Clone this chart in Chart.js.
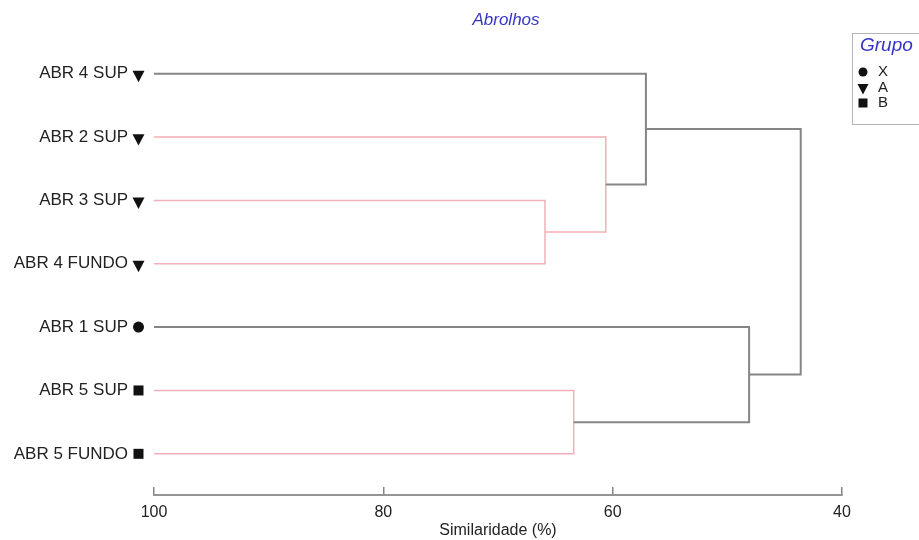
<!DOCTYPE html>
<html>
<head>
<meta charset="utf-8">
<script src="https://cdn.jsdelivr.net/npm/chart.js@4"></script>
<style>
  html, body { margin: 0; padding: 0; background: #fff; }
  #wrap { width: 919px; height: 540px; }
</style>
</head>
<body>
<div id="wrap"><canvas id="dendro"></canvas></div>
<script>
// leaves, top to bottom
const leafLabels = ["ABR 4 SUP", "ABR 2 SUP", "ABR 3 SUP", "ABR 4 FUNDO", "ABR 1 SUP", "ABR 5 SUP", "ABR 5 FUNDO"];
const leafGroups = ["A", "A", "A", "A", "X", "B", "B"];

// merges: node index = 7 + merge index
const mergeLeft = [2, 1, 0, 5, 4, 9];
const mergeRight = [3, 7, 8, 6, 10, 11];
const mergeSimilarity = [65.9, 60.6, 57.1, 63.4, 48.1, 43.6];
const mergeNotSignificant = [true, true, false, true, false, false]; // SIMPROF red lines

const xTicks = [100, 80, 60, 40];
const groupNames = ["X", "A", "B"];

const GRAY = "#858585";
const PINK = "#f4aeb7";
const BLUE = "#3535c4";

// node coordinates in data space
const nodes = leafLabels.map((_, i) => ({ x: 100, y: i }));
mergeSimilarity.forEach((h, k) => {
  const l = nodes[mergeLeft[k]], r = nodes[mergeRight[k]];
  nodes.push({ x: h, y: (l.y + r.y) / 2 });
});

const datasets = mergeSimilarity.map((h, k) => {
  const l = nodes[mergeLeft[k]], r = nodes[mergeRight[k]];
  const pink = mergeNotSignificant[k];
  return {
    data: [
      { x: l.x, y: l.y },
      { x: h, y: l.y },
      { x: h, y: r.y },
      { x: r.x, y: r.y },
    ],
    showLine: true,
    borderColor: pink ? PINK : GRAY,
    borderWidth: pink ? 1.5 : 2,
    pointRadius: 0,
    clip: false,
    order: pink ? 1 : 0,
  };
});

function drawMarker(ctx, kind, x, y, s) {
  ctx.beginPath();
  if (kind === "X") {
    ctx.arc(x, y, s / 2, 0, Math.PI * 2);
  } else if (kind === "A") {
    ctx.moveTo(x - s / 2, y - s * 0.45);
    ctx.lineTo(x + s / 2, y - s * 0.45);
    ctx.lineTo(x, y + s * 0.5);
    ctx.closePath();
  } else {
    ctx.rect(x - s / 2, y - s / 2, s, s);
  }
  ctx.fill();
}

const extras = {
  id: "extras",
  afterDraw(chart) {
    const ctx = chart.ctx;
    const yScale = chart.scales.y;
    ctx.save();
    ctx.fillStyle = "#111";
    leafGroups.forEach((g, i) => {
      const y = yScale.getPixelForValue(i);
      const s = g === "A" ? 12 : 11;
      drawMarker(ctx, g, 138.5, g === "A" ? y + 2.5 : y, g === "B" ? 10 : s);
    });

    // title
    ctx.font = "italic 17px 'Liberation Sans', Arial, sans-serif";
    ctx.fillStyle = BLUE;
    ctx.textAlign = "center";
    ctx.textBaseline = "middle";
    ctx.fillText("Abrolhos", 506, 20);

    // legend box
    ctx.strokeStyle = "#b5b5b5";
    ctx.lineWidth = 1;
    ctx.strokeRect(852.5, 33.5, 80, 91);
    ctx.textAlign = "left";
    ctx.font = "italic 19px 'Liberation Sans', Arial, sans-serif";
    ctx.fillText("Grupo", 860, 46);
    ctx.font = "15px 'Liberation Sans', Arial, sans-serif";
    groupNames.forEach((g, i) => {
      const y = 72 + i * 15.5;
      ctx.fillStyle = "#111";
      drawMarker(ctx, g, 863, g === "A" ? y + 1.5 : y, g === "A" ? 11 : 9);
      ctx.fillStyle = "#222";
      ctx.fillText(g, 878, y);
    });
    ctx.restore();
  },
};

new Chart(document.getElementById("dendro"), {
  type: "scatter",
  data: { datasets: datasets },
  plugins: [extras],
  options: {
    responsive: true,
    maintainAspectRatio: false,
    animation: false,
    events: [],
    layout: { padding: { top: 42, right: 77, bottom: 0, left: 0 } },
    plugins: {
      legend: { display: false },
      tooltip: { enabled: false },
      title: { display: false },
    },
    scales: {
      x: {
        type: "linear",
        reverse: true,
        min: 40,
        max: 100,
        afterBuildTicks: (s) => { s.ticks = xTicks.map((v) => ({ value: v })); },
        afterFit: (s) => { s.height = 45; },
        ticks: {
          font: { family: "'Liberation Sans', Arial, sans-serif", size: 16 },
          color: "#222",
          padding: 16,
          maxRotation: 0,
        },
        grid: {
          drawOnChartArea: false,
          drawTicks: true,
          tickLength: -8,
          color: "#858585",
          lineWidth: 1.5,
        },
        border: { display: true, color: "#959595", width: 2 },
        title: {
          display: true,
          text: "Similaridade (%)",
          color: "#222",
          font: { family: "'Liberation Sans', Arial, sans-serif", size: 16 },
          padding: { top: 0, bottom: 0 },
        },
      },
      y: {
        type: "linear",
        reverse: true,
        min: -0.5,
        max: 6.65,
        afterBuildTicks: (s) => { s.ticks = leafLabels.map((_, i) => ({ value: i })); },
        afterFit: (s) => { s.width = 154; },
        ticks: {
          autoSkip: false,
          callback: (v) => leafLabels[v],
          font: { family: "'Liberation Sans', Arial, sans-serif", size: 17 },
          color: "#222",
          padding: 26,
        },
        grid: { display: false, drawTicks: false },
        border: { display: false },
      },
    },
  },
});
</script>
</body>
</html>
